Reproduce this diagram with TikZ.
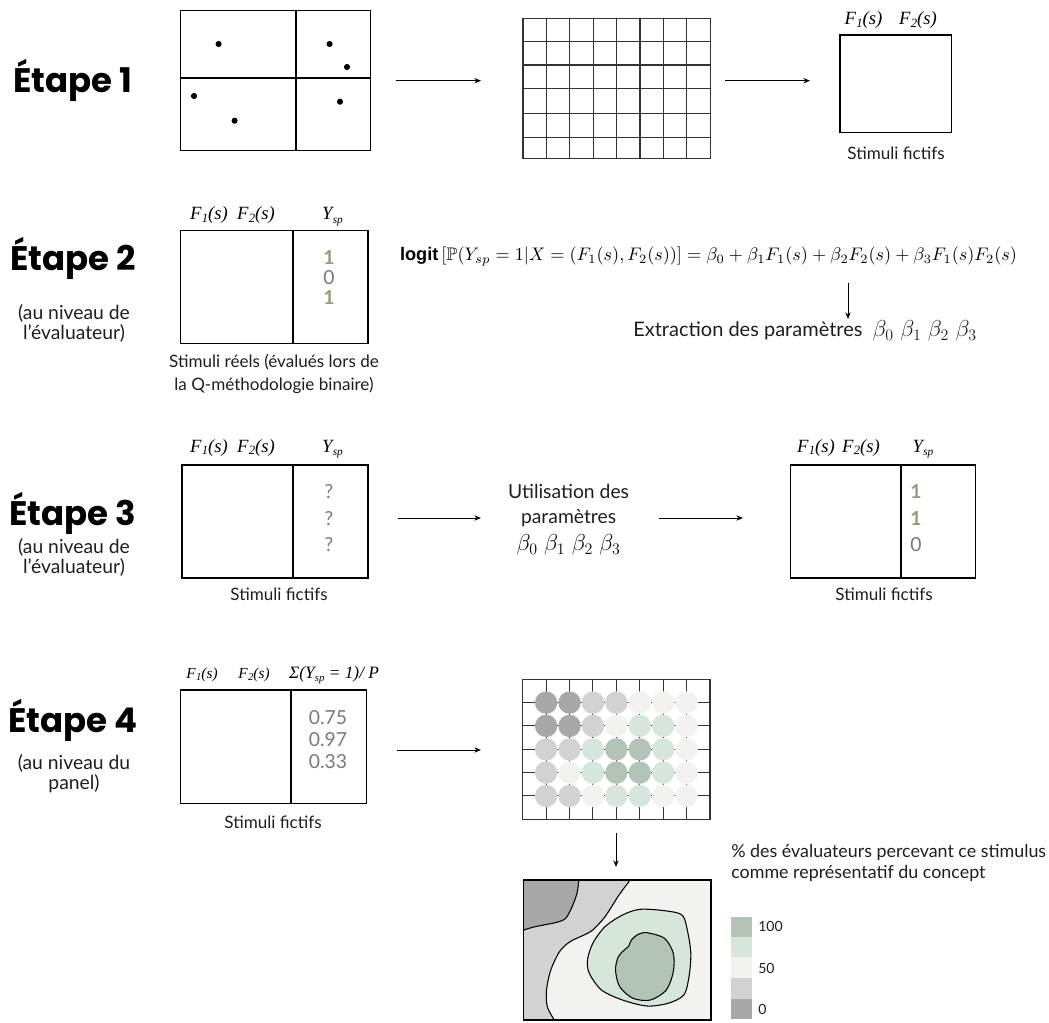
\documentclass[tikz,border=0pt]{standalone}
\usepackage{amsmath,amssymb}
\usepackage{graphicx}
\usepackage{fontspec}
\usetikzlibrary{arrows.meta}
\setmainfont{Lato}
\newfontfamily\stepfont{Poppins}
\newfontfamily\tms{Liberation Serif}
\newfontfamily\lsans{Liberation Sans}
\definecolor{olivec}{HTML}{9A9A78}
\definecolor{valgray}{HTML}{7A7A7A}
\definecolor{txt}{HTML}{1E1E1E}
\definecolor{dgray}{HTML}{A8A8A8}
\definecolor{lgray}{HTML}{D2D2D2}
\definecolor{vlight}{HTML}{F2F2F0}
\definecolor{lgreen}{HTML}{D7E6DA}
\definecolor{mgreen}{HTML}{B3C3B5}
\definecolor{gridc}{HTML}{333333}
\newcommand{\Fs}[1]{F\kern0.3pt\raisebox{-0.3ex}{\fontsize{9.5}{10}\selectfont #1}(s)}
\newcommand{\Ysp}{Y\kern0.2pt\raisebox{-0.4ex}{\fontsize{8.5}{9}\selectfont sp}}
\newcommand{\Fsm}[1]{F\kern0.3pt\raisebox{-0.3ex}{\fontsize{8}{9}\selectfont #1}(s)}
\newcommand{\Yspm}{Y\kern0.2pt\raisebox{-0.4ex}{\fontsize{8}{9}\selectfont sp}}
\begin{document}
\begin{tikzpicture}[x=0.75pt,y=-0.75pt,
  stepttl/.style={font=\stepfont\bfseries\fontsize{25.5}{30}\selectfont, anchor=base, text=black},
  sublbl/.style={font=\fontsize{14.5}{16}\selectfont, anchor=base, text=txt},
  caplbl/.style={font=\fontsize{12.8}{14}\selectfont, anchor=base, text=txt},
  flbl/.style={font=\tms\itshape\fontsize{14}{16}\selectfont, anchor=base, inner sep=0pt},
  flbls/.style={font=\tms\itshape\fontsize{11.5}{13}\selectfont, anchor=base, inner sep=0pt},
  val/.style={font=\fontsize{14.5}{16}\selectfont, text=valgray},
  valb/.style={font=\bfseries\fontsize{14.5}{16}\selectfont, text=olivec},
  tbox/.style={draw, line width=0.9pt, inner sep=0pt, fill=white},
  gbox/.style={draw=gridc, line width=0.9pt, inner sep=0pt},
  arr/.style={-{Stealth[length=5pt,width=4pt]}, line width=0.7pt},
  bodytxt/.style={font=\fontsize{14.5}{16}\selectfont, text=txt}
]
\useasboundingbox (0,0) rectangle (1049,1023);

% ---------- Etape 1 ----------
\node[stepttl] (e1) at (73,93) {Étape 1};
\node[tbox, minimum width=142.5pt, minimum height=105pt] (b1) at (275.7,80.7) {};
\draw[line width=0.9pt] (296,10.7) -- (296,150.7);
\draw[line width=0.9pt] (180.7,78) -- (370.7,78);
\fill (218.6,44) circle[radius=2.3pt];
\fill (329.6,44) circle[radius=2.3pt];
\fill (347,67) circle[radius=2.3pt];
\fill (194,96) circle[radius=2.3pt];
\fill (234.6,120.7) circle[radius=2.3pt];
\fill (340,101.7) circle[radius=2.3pt];
\coordinate (a1s) at (396,80.7);
\coordinate (a1e) at (481,80.7);
\draw[arr] (a1s) -- (a1e);
\node[gbox, minimum width=140.6pt, minimum height=105pt] (g1) at (616.65,88.3) {};
\foreach \xx in {546.3,569.7,593.2,616.6,640.0,663.5,686.9}
  \draw[gridc, line width=0.8pt] (\xx,18.3) -- (\xx,158.3);
\foreach \yy in {41.3,65,88.7,113.3,137.3}
  \draw[gridc, line width=0.8pt] (522.9,\yy) -- (710.4,\yy);
\coordinate (a2s) at (725,80.7);
\coordinate (a2e) at (810,80.7);
\draw[arr] (a2s) -- (a2e);
\node[tbox, minimum width=83.8pt, minimum height=73pt] (r1) at (895.85,83.65) {};
\node[flbl] (r1f1) at (863.5,25) {\Fs{1}};
\node[flbl] (r1f2) at (918,25) {\Fs{2}};
\node[caplbl] (r1c) at (896,160) {Stimuli fictifs};

% ---------- Etape 2 ----------
\node[stepttl] (e2) at (73,271) {Étape 2};
\node[sublbl] (e2a) at (74,320) {(au niveau de};
\node[sublbl] (e2b) at (74,340) {l’évaluateur)};
\node[tbox, minimum width=140.55pt, minimum height=84.45pt] (t2) at (274.3,287) {};
\draw[line width=0.9pt] (293,230.7) -- (293,343.3);
\node[flbl] (t2f1) at (209,220) {\Fs{1}};
\node[flbl] (t2f2) at (256,220) {\Fs{2}};
\node[flbl] (t2y) at (332.5,220) {\Ysp};
\node[valb] (t2v1) at (329,258) {1};
\node[val] (t2v2) at (329,278) {0};
\node[valb] (t2v3) at (329,298) {1};
\node[caplbl] (t2c1) at (274,368) {Stimuli réels (évalués lors de};
\node[caplbl] (t2c2) at (274,390) {la Q-méthodologie binaire)};
\node (form) at (708.5,256.7) {\resizebox{462.75pt}{!}{{\lsans\bfseries logit}\,$[\mathbb{P}(Y_{sp}=1|X=(F_1(s),F_2(s))]=\beta_0+\beta_1F_1(s)+\beta_2F_2(s)+\beta_3F_1(s)F_2(s)$}};
\coordinate (a3s) at (848,283);
\coordinate (a3e) at (848,319);
\draw[arr] (a3s) -- (a3e);
\node[anchor=base west, bodytxt, font=\fontsize{15}{17}\selectfont, inner sep=0pt] (ext) at (633,337) {Extraction des paramètres\ \ {\fontsize{18}{20}\selectfont$\beta_0\;\beta_1\;\beta_2\;\beta_3$}};

% ---------- Etape 3 ----------
\node[stepttl] (e3) at (73,525) {Étape 3};
\node[sublbl] (e3a) at (74,553) {(au niveau de};
\node[sublbl] (e3b) at (74,573) {l’évaluateur)};
\node[tbox, minimum width=139.5pt, minimum height=84.75pt] (t3) at (275,521.5) {};
\draw[line width=0.9pt] (293,465) -- (293,578);
\node[flbl] (t3f1) at (209,452) {\Fs{1}};
\node[flbl] (t3f2) at (256,452) {\Fs{2}};
\node[flbl] (t3y) at (332.5,452) {\Ysp};
\node[val] (t3v1) at (329,491.7) {?};
\node[val] (t3v2) at (329,518.3) {?};
\node[val] (t3v3) at (329,545) {?};
\node[caplbl] (t3c) at (279,600) {Stimuli fictifs};
\coordinate (a4s) at (398,518);
\coordinate (a4e) at (481,518);
\draw[arr] (a4s) -- (a4e);
\node[bodytxt] (u1) at (568.6,491.7) {Utilisation des};
\node[bodytxt] (u2) at (568.6,518.3) {paramètres};
\node[font=\fontsize{18}{20}\selectfont] (u3) at (568.6,545) {$\beta_0\;\beta_1\;\beta_2\;\beta_3$};
\coordinate (a5s) at (659,518);
\coordinate (a5e) at (743,518);
\draw[arr] (a5s) -- (a5e);
\node[tbox, minimum width=138.5pt, minimum height=84.75pt] (t3r) at (882.95,521.5) {};
\draw[line width=0.9pt] (901,465) -- (901,578);
\node[flbl] (t3rf1) at (816,452) {\Fs{1}};
\node[flbl] (t3rf2) at (861,452) {\Fs{2}};
\node[flbl] (t3ry) at (923,452) {\Ysp};
\node[valb] (t3rv1) at (916,491.7) {1};
\node[valb] (t3rv2) at (916,518.3) {1};
\node[val] (t3rv3) at (916,545) {0};
\node[caplbl] (t3rc) at (884,600) {Stimuli fictifs};

% ---------- Etape 4 ----------
\node[stepttl] (e4) at (73,732) {Étape 4};
\node[sublbl] (e4a) at (74,769) {(au niveau du};
\node[sublbl] (e4b) at (74,789) {panel)};
\node[tbox, minimum width=139.5pt, minimum height=85pt] (t4) at (273.7,746.65) {};
\draw[line width=0.9pt] (291,690) -- (291,803.3);
\node[flbls] (t4f1) at (202,678) {\Fsm{1}};
\node[flbls] (t4f2) at (254,678) {\Fsm{2}};
\node[flbls, font=\tms\itshape\fontsize{13}{15}\selectfont] (t4s) at (334,678) {Σ(\Yspm{} = 1)/ P};
\node[val] (t4v1) at (328,718) {0.75};
\node[val] (t4v2) at (328,740) {0.97};
\node[val] (t4v3) at (328,761.7) {0.33};
\node[caplbl] (t4c) at (273,828) {Stimuli fictifs};
\coordinate (a6s) at (397,750);
\coordinate (a6e) at (481,750);
\draw[arr] (a6s) -- (a6e);

% bubble grid
\node[gbox, minimum width=140.5pt, minimum height=105pt] (g4) at (616.35,749.3) {};
\foreach \xx in {546.1,569.5,592.9,616.3,639.8,663.2,686.6}
  \draw[gridc, line width=0.8pt] (\xx,679.3) -- (\xx,819.3);
\foreach \yy in {702.6,725.9,749.3,772.6,795.9}
  \draw[gridc, line width=0.8pt] (522.7,\yy) -- (710,\yy);
\foreach \row/\cols in {702.6/{dgray,dgray,lgray,lgray,vlight,vlight,vlight},
                        725.9/{dgray,dgray,lgray,vlight,lgreen,lgreen,vlight},
                        749.3/{lgray,lgray,lgreen,mgreen,mgreen,lgreen,vlight},
                        772.6/{lgray,vlight,lgreen,mgreen,mgreen,lgreen,vlight},
                        795.9/{lgray,lgray,vlight,lgreen,lgreen,vlight,vlight}}{
  \foreach \c [count=\i] in \cols {
    \pgfmathsetmacro{\cx}{522.7+23.41*\i}
    \fill[\c] (\cx,\row) circle[radius=8.4pt];
  }
}
\coordinate (a7s) at (616,833);
\coordinate (a7e) at (616,867);
\draw[arr] (a7s) -- (a7e);

% contour map
\begin{scope}
\clip (523.8,880) rectangle (711,1020);
\fill[vlight] (523.8,880) rectangle (711,1020);
\fill[lgray] (523.8,880) -- plot[smooth] coordinates {(630.2,880) (619,895) (605,916.7) (592.8,930) (584,935) (570,941.7) (559.5,951.7) (550.8,970) (546.5,990) (547.3,1006.7) (554.3,1020)} -- (523.8,1020) -- cycle;
\draw[line width=0.8pt] plot[smooth] coordinates {(630.2,880) (619,895) (605,916.7) (592.8,930) (584,935) (570,941.7) (559.5,951.7) (550.8,970) (546.5,990) (547.3,1006.7) (554.3,1020)};
\fill[dgray] (523.8,880) -- plot[smooth] coordinates {(578.8,880) (577,893.3) (572,907) (568.5,914) (565.5,918.5) (561,921) (552.5,923.3) (535,926.7) (523.8,930)} -- cycle;
\draw[line width=0.8pt] plot[smooth] coordinates {(578.8,880) (577,893.3) (572,907) (568.5,914) (565.5,918.5) (561,921) (552.5,923.3) (535,926.7) (523.8,930)};
\filldraw[fill=lgreen, draw=black, line width=0.8pt] plot[smooth cycle] coordinates {(640,909.3) (664.5,910.7) (682,915) (687.3,930) (690.8,953.3) (689,976.7) (683.8,995) (668,1003.3) (647,1006) (622.5,1000) (601.5,990) (589.3,973.3) (587.5,960) (592.8,943.3) (605,926.7) (622.5,915)};
\filldraw[fill=mgreen, draw=black, line width=0.8pt] plot[smooth cycle] coordinates {(647,932.7) (664.5,938.3) (673.3,953.3) (673.3,971.7) (666.3,990) (650.5,1000) (633,998.3) (619.7,986.7) (615.5,970) (618.3,956.7) (624.3,950) (628.8,946) (631.3,940) (638.3,934.3)};
\end{scope}
\node[gbox, draw=black, minimum width=140.4pt, minimum height=105pt] (map) at (617.4,950) {};

% legend
\node[anchor=base west, inner sep=0pt, font=\fontsize{13.4}{15}\selectfont, text=txt] (lg1) at (731,857) {\% des évaluateurs percevant ce stimulus};
\node[anchor=base west, inner sep=0pt, font=\fontsize{13.4}{15}\selectfont, text=txt] (lg2) at (731,878) {comme représentatif du concept};
\fill[mgreen] (731,916.7) rectangle (752,936.7);
\fill[lgreen] (731,936.7) rectangle (752,957.3);
\fill[vlight] (731,957.3) rectangle (752,978.3);
\fill[lgray] (731,978.3) rectangle (752,999);
\fill[dgray] (731,999) rectangle (752,1019.3);
\node[anchor=base west, inner sep=0pt, font=\fontsize{10.5}{12}\selectfont, text=txt] (l100) at (758,931.5) {100};
\node[anchor=base west, inner sep=0pt, font=\fontsize{10.5}{12}\selectfont, text=txt] (l50) at (758,973) {50};
\node[anchor=base west, inner sep=0pt, font=\fontsize{10.5}{12}\selectfont, text=txt] (l0) at (758,1014) {0};
\end{tikzpicture}
\end{document}
